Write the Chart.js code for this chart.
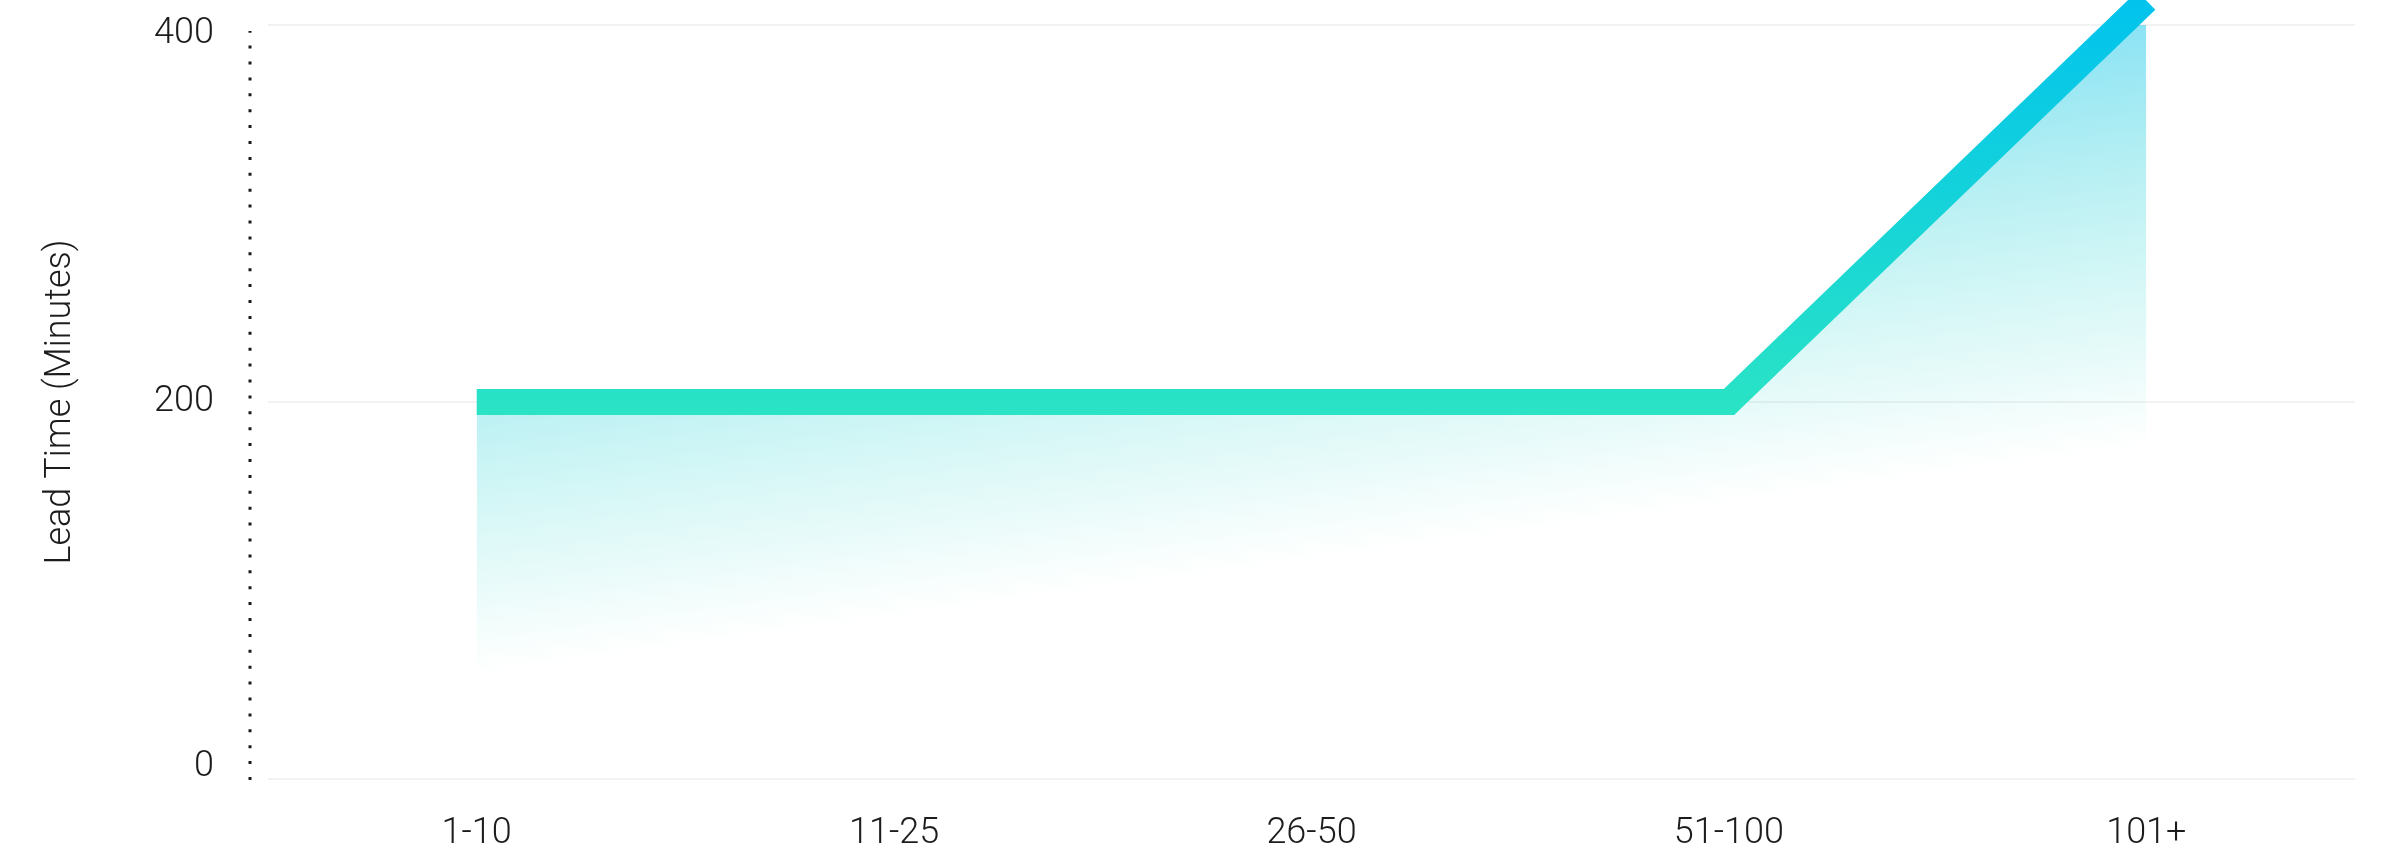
<!DOCTYPE html>
<html lang="en">
<head>
<meta charset="utf-8">
<title>Lead Time by Batch Size</title>
<script src="https://cdn.jsdelivr.net/npm/chart.js@4.4.1/dist/chart.umd.min.js"></script>
<style>
  html, body {
    margin: 0;
    padding: 0;
    background: #ffffff;
  }
  .chart-wrap {
    position: relative;
    width: 2388px;
    height: 859px;
  }
</style>
</head>
<body>
<div class="chart-wrap">
  <canvas id="leadTimeChart"></canvas>
</div>
<script>
const sizeBuckets = ["1-10", "11-25", "26-50", "51-100", "101+"];
const leadTimeMinutes = [200, 200, 200, 200, 413];
const yTickValues = [0, 200, 400];

const TEXT_COLOR = "#1c1c1c";
const GRID_COLOR = "#f2f2f2";

// Vertical stroke gradient: mint at the plateau, cyan at the peak
function strokeGradient(context) {
  const chart = context.chart;
  const { ctx, chartArea, scales } = chart;
  if (!chartArea) return "#2be4c4";
  const y = scales.y;
  const g = ctx.createLinearGradient(0, y.getPixelForValue(190), 0, 0);
  g.addColorStop(0, "#2be4c4");
  g.addColorStop(1, "#01c3ed");
  return g;
}

// Area fill fades out along a slightly tilted direction
function fillGradient(context) {
  const chart = context.chart;
  const { ctx, chartArea, scales } = chart;
  if (!chartArea) return "rgba(0,0,0,0)";
  const x = scales.x;
  const y = scales.y;
  const endX = x.getPixelForValue(0);
  const endY = y.getPixelForValue(55);
  const len = 455;
  const dx = 0.136;
  const dy = 0.991;
  const g = ctx.createLinearGradient(endX - dx * len, endY - dy * len, endX, endY);
  g.addColorStop(0, "rgba(0,192,236,0.50)");
  g.addColorStop(0.44, "rgba(20,205,215,0.28)");
  g.addColorStop(0.8, "rgba(40,215,205,0.11)");
  g.addColorStop(1, "rgba(44,228,196,0)");
  return g;
}

// Dotted rule a little to the left of the plot area
const dottedAxis = {
  id: "dottedAxis",
  beforeDatasetsDraw(chart) {
    const { ctx, chartArea } = chart;
    const xPos = chartArea.left - 18;
    ctx.save();
    ctx.strokeStyle = "#1a1a1a";
    ctx.lineWidth = 3;
    ctx.setLineDash([3, 12.9]);
    ctx.beginPath();
    ctx.moveTo(xPos, chartArea.bottom + 1);
    ctx.lineTo(xPos, chartArea.top + 6);
    ctx.stroke();
    ctx.restore();
  },
};

// Pull the first and last y labels slightly inside the value range
const tuckEdgeLabels = {
  id: "tuckEdgeLabels",
  beforeDraw(chart) {
    const items = chart.scales.y.getLabelItems();
    if (items._tucked || items.length < 2) return;
    items[0].options.translation[1] -= 12;
    items[items.length - 1].options.translation[1] += 9;
    items._tucked = true;
  },
};

Chart.defaults.font.family = "Roboto, 'Open Sans', sans-serif";
Chart.defaults.font.weight = "300";
Chart.defaults.color = TEXT_COLOR;

new Chart(document.getElementById("leadTimeChart"), {
  type: "line",
  data: {
    labels: sizeBuckets,
    datasets: [
      {
        label: "Lead Time",
        data: leadTimeMinutes,
        borderColor: strokeGradient,
        backgroundColor: fillGradient,
        borderWidth: 26,
        borderJoinStyle: "miter",
        borderCapStyle: "butt",
        fill: "origin",
        tension: 0,
        pointRadius: 0,
        pointHoverRadius: 0,
        clip: false,
      },
    ],
  },
  options: {
    responsive: true,
    maintainAspectRatio: false,
    animation: false,
    layout: {
      autoPadding: false,
      padding: { top: 25, right: 33, bottom: 0, left: 0 },
    },
    plugins: {
      legend: { display: false },
      tooltip: { enabled: false },
    },
    scales: {
      x: {
        offset: true,
        grid: { display: false, drawTicks: false },
        border: { display: false },
        ticks: {
          padding: 33,
          font: { size: 36, weight: "300" },
          color: TEXT_COLOR,
        },
        afterFit(scale) {
          scale.height = 80;
          scale.paddingLeft = 0;
          scale.paddingRight = 0;
        },
      },
      y: {
        min: 0,
        max: 400,
        afterBuildTicks(scale) {
          scale.ticks = yTickValues.map((v) => ({ value: v }));
        },
        grid: {
          color: GRID_COLOR,
          lineWidth: 2,
          drawTicks: false,
        },
        border: { display: false },
        ticks: {
          padding: 54,
          font: { size: 36, weight: "300" },
          color: TEXT_COLOR,
        },
        title: {
          display: true,
          text: "Lead Time (Minutes)",
          font: { size: 36, weight: "300" },
          color: TEXT_COLOR,
          padding: { top: 39, bottom: 0 },
        },
        afterFit(scale) {
          scale.width = 268;
          scale.paddingTop = 0;
          scale.paddingBottom = 0;
        },
      },
    },
  },
  plugins: [dottedAxis, tuckEdgeLabels],
});
</script>
</body>
</html>
